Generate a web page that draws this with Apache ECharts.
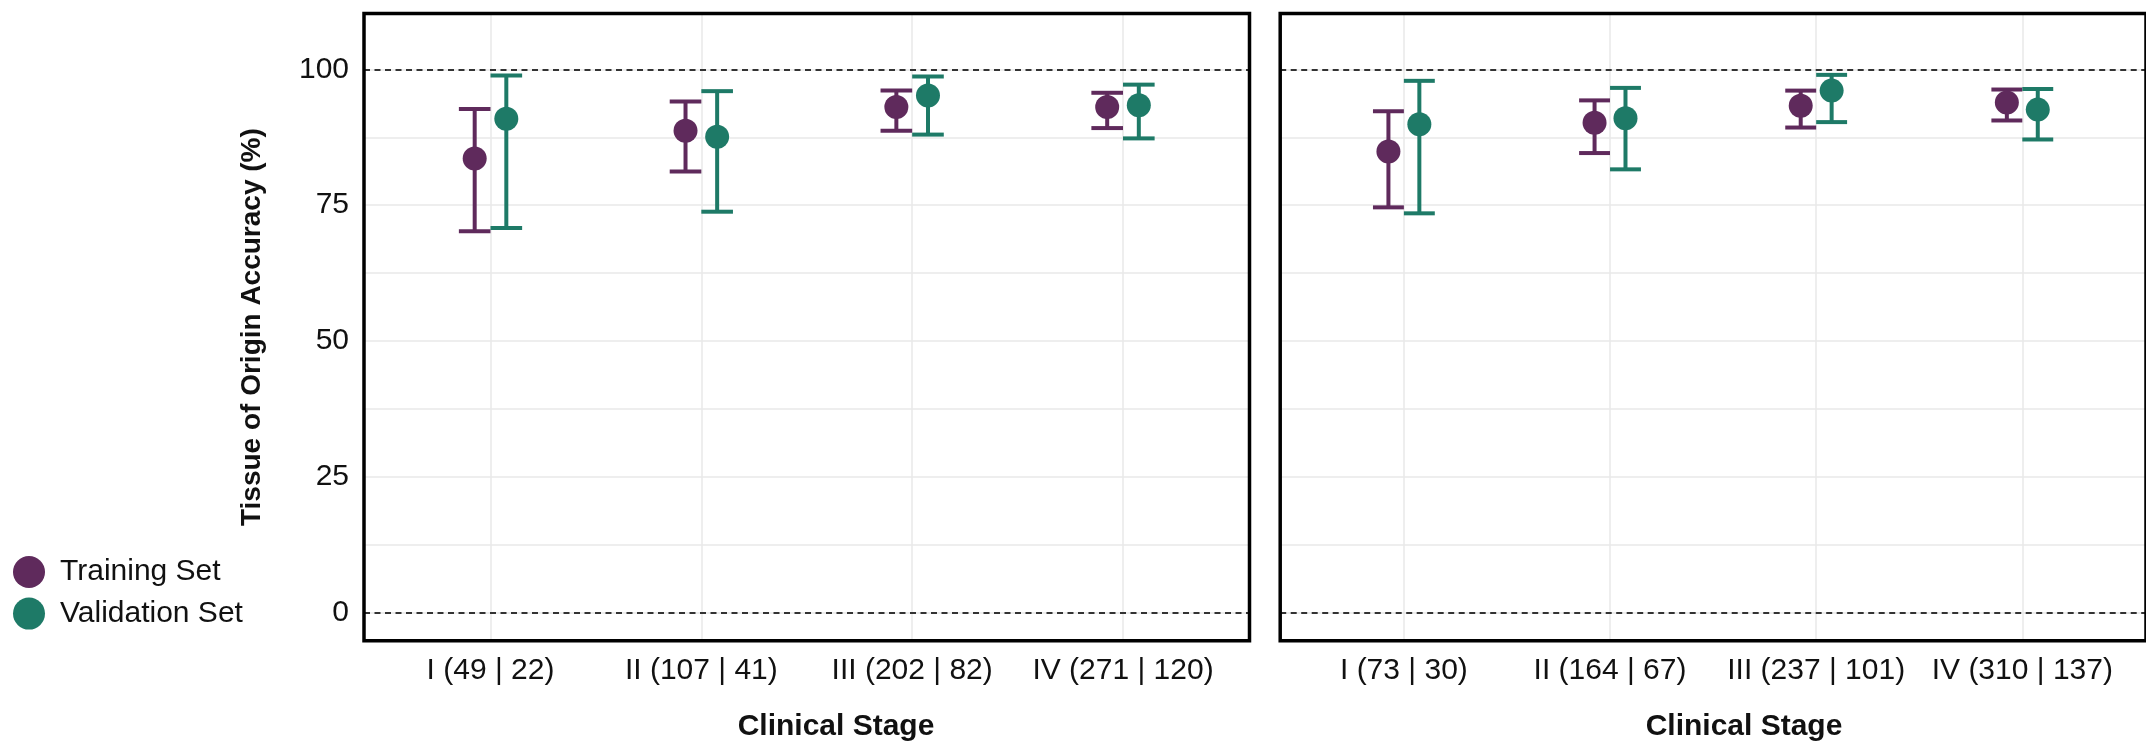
<!DOCTYPE html>
<html>
<head>
<meta charset="utf-8">
<style>
  html, body { margin: 0; padding: 0; background: #ffffff; }
  #chart { width: 2146px; height: 744px; }
</style>
<script src="https://cdn.jsdelivr.net/npm/echarts@6/dist/echarts.min.js"></script>
</head>
<body>
<div id="chart"></div>
<script>
// ---- data ----
const categoriesA = ['I (49 | 22)', 'II (107 | 41)', 'III (202 | 82)', 'IV (271 | 120)'];
const categoriesB = ['I (73 | 30)', 'II (164 | 67)', 'III (237 | 101)', 'IV (310 | 137)'];

const trainA     = [83.6, 88.7, 93.1, 93.1];
const trainALow  = [70.2, 81.2, 88.7, 89.2];
const trainAHigh = [92.7, 94.1, 96.1, 95.7];
const validA     = [90.9, 87.6, 95.2, 93.4];
const validALow  = [70.8, 73.8, 88.0, 87.3];
const validAHigh = [98.9, 96.0, 98.7, 97.2];

const trainB     = [84.9, 90.2, 93.3, 93.9];
const trainBLow  = [74.6, 84.6, 89.3, 90.6];
const trainBHigh = [92.3, 94.3, 96.1, 96.3];
const validB     = [89.9, 91.0, 96.1, 92.6];
const validBLow  = [73.5, 81.6, 90.3, 87.1];
const validBHigh = [97.9, 96.6, 99.0, 96.4];

const yTickLabels = [0, 25, 50, 75, 100];
const yGridValues = [0, 12.5, 25, 37.5, 50, 62.5, 75, 87.5, 100];
const refLines = [0, 100];

// ---- style ----
const FONT = "'Liberation Sans', Arial, sans-serif";
const TRAIN_COLOR = '#5f2a5c';
const VALID_COLOR = '#1e7a67';
const DODGE = 0.075;
const CAP_HALF = 0.075;

const chart = echarts.init(document.getElementById('chart'), null, { renderer: 'canvas' });

function pts(vals, off) { return vals.map((v, i) => [i + 1 + off, v]); }
function bars(lo, hi, off) { return lo.map((l, i) => [i + 1 + off, l, hi[i]]); }

function renderErr(params, api) {
  const x = api.value(0), lo = api.value(1), hi = api.value(2);
  const pLo = api.coord([x, lo]);
  const pHi = api.coord([x, hi]);
  const hw = api.size([CAP_HALF, 0])[0];
  const color = api.visual('color');
  const st = { stroke: color, lineWidth: 4, lineCap: 'butt' };
  return {
    type: 'group',
    children: [
      { type: 'line', shape: { x1: pLo[0], y1: pLo[1], x2: pHi[0], y2: pHi[1] }, style: st },
      { type: 'line', shape: { x1: pHi[0] - hw, y1: pHi[1], x2: pHi[0] + hw, y2: pHi[1] }, style: st },
      { type: 'line', shape: { x1: pLo[0] - hw, y1: pLo[1], x2: pLo[0] + hw, y2: pLo[1] }, style: st }
    ]
  };
}

function xAxis(idx, cats) {
  return {
    type: 'value', gridIndex: idx, min: 0.4, max: 4.6,
    axisLine: { show: false },
    axisTick: { show: false, customValues: [1, 2, 3, 4] },
    axisLabel: {
      customValues: [1, 2, 3, 4],
      formatter: v => cats[Math.round(v) - 1] || '',
      fontFamily: FONT, fontSize: 30, color: '#111', margin: 15, hideOverlap: false
    },
    splitLine: { show: true, lineStyle: { color: '#e8e8e8', width: 1.5 } }
  };
}
function yAxis(idx, showLabels) {
  return {
    type: 'value', gridIndex: idx, min: -5.2, max: 110.3,
    axisLine: { show: false },
    axisTick: { show: false, customValues: yGridValues },
    axisLabel: {
      show: showLabels, customValues: yTickLabels,
      fontFamily: FONT, fontSize: 30, color: '#111', margin: 15
    },
    splitLine: { show: true, lineStyle: { color: '#e8e8e8', width: 1.5 } },
    name: showLabels ? 'Tissue of Origin Accuracy (%)' : '',
    nameLocation: 'middle', nameGap: 98,
    nameTextStyle: { fontFamily: FONT, fontSize: 28, fontWeight: 'bold', color: '#111' }
  };
}

const markRefs = {
  silent: true, symbol: 'none', animation: false,
  label: { show: false },
  lineStyle: { type: [6, 4.5], color: '#333', width: 2 },
  data: refLines.map(v => ({ yAxis: v }))
};

function panelSeries(idx, tr, trLo, trHi, va, vaLo, vaHi) {
  return [
    { name: 'Training Set', type: 'scatter', xAxisIndex: idx, yAxisIndex: idx, data: pts(tr, -DODGE),
      symbol: 'circle', symbolSize: 24, itemStyle: { color: TRAIN_COLOR, opacity: 1 }, z: 5, markLine: markRefs },
    { name: 'Validation Set', type: 'scatter', xAxisIndex: idx, yAxisIndex: idx, data: pts(va, DODGE),
      symbol: 'circle', symbolSize: 24, itemStyle: { color: VALID_COLOR, opacity: 1 }, z: 5 },
    { name: 'Training Set', type: 'custom', xAxisIndex: idx, yAxisIndex: idx, data: bars(trLo, trHi, -DODGE),
      renderItem: renderErr, itemStyle: { color: TRAIN_COLOR }, z: 3, encode: { x: 0, y: [1, 2] } },
    { name: 'Validation Set', type: 'custom', xAxisIndex: idx, yAxisIndex: idx, data: bars(vaLo, vaHi, DODGE),
      renderItem: renderErr, itemStyle: { color: VALID_COLOR }, z: 3, encode: { x: 0, y: [1, 2] } }
  ];
}

const option = {
  animation: false,
  backgroundColor: '#ffffff',
  textStyle: { fontFamily: FONT },
  grid: [
    { left: 364, top: 13.5, width: 885.5, height: 627.2, show: true, borderColor: '#000', borderWidth: 3.5, backgroundColor: 'transparent', z: 10 },
    { left: 1280.2, top: 13.5, width: 885.5, height: 627.2, show: true, borderColor: '#000', borderWidth: 3.5, backgroundColor: 'transparent', z: 10 }
  ],
  title: [
    { text: 'Clinical Stage', left: 836, top: 712, textAlign: 'center',
      textStyle: { fontFamily: FONT, fontSize: 30, fontWeight: 'bold', color: '#111' }, padding: 0 },
    { text: 'Clinical Stage', left: 1744, top: 712, textAlign: 'center',
      textStyle: { fontFamily: FONT, fontSize: 30, fontWeight: 'bold', color: '#111' }, padding: 0 }
  ],
  legend: {
    data: [
      { name: 'Training Set', icon: 'circle', itemStyle: { color: TRAIN_COLOR } },
      { name: 'Validation Set', icon: 'circle', itemStyle: { color: VALID_COLOR } }
    ],
    orient: 'vertical', left: 13, top: 556, padding: 0,
    itemWidth: 52, itemHeight: 32, itemGap: 9.6,
    textStyle: { fontFamily: FONT, fontSize: 30, color: '#111' }
  },
  xAxis: [xAxis(0, categoriesA), xAxis(1, categoriesB)],
  yAxis: [yAxis(0, true), yAxis(1, false)],
  series: [].concat(
    panelSeries(0, trainA, trainALow, trainAHigh, validA, validALow, validAHigh),
    panelSeries(1, trainB, trainBLow, trainBHigh, validB, validBLow, validBHigh)
  )
};
chart.setOption(option);
</script>
</body>
</html>
